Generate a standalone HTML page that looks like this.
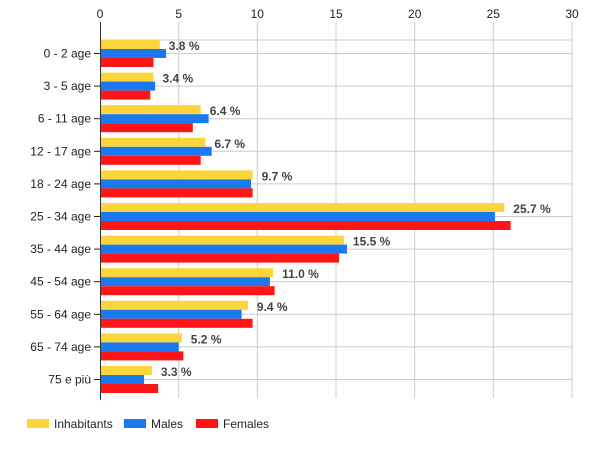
<!DOCTYPE html>
<html><head><meta charset="utf-8"><style>body{margin:0;background:#fff}svg{display:block}</style></head><body>
<svg width="600" height="450" xmlns="http://www.w3.org/2000/svg" font-family="Liberation Sans, Arial, sans-serif">
<g stroke="#ccc" stroke-width="1">
<line x1="178.7" y1="22" x2="178.7" y2="398"/><line x1="257.3" y1="22" x2="257.3" y2="398"/><line x1="336" y1="22" x2="336" y2="398"/><line x1="414.7" y1="22" x2="414.7" y2="398"/><line x1="493.3" y1="22" x2="493.3" y2="398"/><line x1="572" y1="22" x2="572" y2="398"/>
<line x1="100" y1="40" x2="572" y2="40"/>
<line x1="100" y1="53.5" x2="572" y2="53.5"/><line x1="100" y1="86.1" x2="572" y2="86.1"/><line x1="100" y1="118.7" x2="572" y2="118.7"/><line x1="100" y1="151.3" x2="572" y2="151.3"/><line x1="100" y1="183.9" x2="572" y2="183.9"/><line x1="100" y1="216.5" x2="572" y2="216.5"/><line x1="100" y1="249.1" x2="572" y2="249.1"/><line x1="100" y1="281.7" x2="572" y2="281.7"/><line x1="100" y1="314.3" x2="572" y2="314.3"/><line x1="100" y1="346.9" x2="572" y2="346.9"/><line x1="100" y1="379.5" x2="572" y2="379.5"/>
</g>
<g>
<g transform="translate(0,40)"><rect x="100" y="0" width="59.8" height="9" fill="#fbd53a"/><rect x="100" y="9" width="66.1" height="9" fill="#1c78ee"/><rect x="100" y="18" width="53.5" height="9" fill="#ff1515"/></g>
<g transform="translate(0,72.6)"><rect x="100" y="0" width="53.5" height="9" fill="#fbd53a"/><rect x="100" y="9" width="55.1" height="9" fill="#1c78ee"/><rect x="100" y="18" width="50.3" height="9" fill="#ff1515"/></g>
<g transform="translate(0,105.2)"><rect x="100" y="0" width="100.7" height="9" fill="#fbd53a"/><rect x="100" y="9" width="108.6" height="9" fill="#1c78ee"/><rect x="100" y="18" width="92.8" height="9" fill="#ff1515"/></g>
<g transform="translate(0,137.8)"><rect x="100" y="0" width="105.4" height="9" fill="#fbd53a"/><rect x="100" y="9" width="111.7" height="9" fill="#1c78ee"/><rect x="100" y="18" width="100.7" height="9" fill="#ff1515"/></g>
<g transform="translate(0,170.4)"><rect x="100" y="0" width="152.6" height="9" fill="#fbd53a"/><rect x="100" y="9" width="151" height="9" fill="#1c78ee"/><rect x="100" y="18" width="152.6" height="9" fill="#ff1515"/></g>
<g transform="translate(0,203)"><rect x="100" y="0" width="404.3" height="9" fill="#fbd53a"/><rect x="100" y="9" width="394.9" height="9" fill="#1c78ee"/><rect x="100" y="18" width="410.6" height="9" fill="#ff1515"/></g>
<g transform="translate(0,235.6)"><rect x="100" y="0" width="243.9" height="9" fill="#fbd53a"/><rect x="100" y="9" width="247" height="9" fill="#1c78ee"/><rect x="100" y="18" width="239.1" height="9" fill="#ff1515"/></g>
<g transform="translate(0,268.2)"><rect x="100" y="0" width="173.1" height="9" fill="#fbd53a"/><rect x="100" y="9" width="169.9" height="9" fill="#1c78ee"/><rect x="100" y="18" width="174.6" height="9" fill="#ff1515"/></g>
<g transform="translate(0,300.8)"><rect x="100" y="0" width="147.9" height="9" fill="#fbd53a"/><rect x="100" y="9" width="141.6" height="9" fill="#1c78ee"/><rect x="100" y="18" width="152.6" height="9" fill="#ff1515"/></g>
<g transform="translate(0,333.4)"><rect x="100" y="0" width="81.8" height="9" fill="#fbd53a"/><rect x="100" y="9" width="78.7" height="9" fill="#1c78ee"/><rect x="100" y="18" width="83.4" height="9" fill="#ff1515"/></g>
<g transform="translate(0,366)"><rect x="100" y="0" width="51.9" height="9" fill="#fbd53a"/><rect x="100" y="9" width="44.1" height="9" fill="#1c78ee"/><rect x="100" y="18" width="58.2" height="9" fill="#ff1515"/></g>
</g>
<line x1="100.5" y1="22" x2="100.5" y2="400" stroke="#333"/>
<g stroke="#222">
<line x1="94" y1="53.5" x2="100" y2="53.5"/><line x1="94" y1="86.1" x2="100" y2="86.1"/><line x1="94" y1="118.7" x2="100" y2="118.7"/><line x1="94" y1="151.3" x2="100" y2="151.3"/><line x1="94" y1="183.9" x2="100" y2="183.9"/><line x1="94" y1="216.5" x2="100" y2="216.5"/><line x1="94" y1="249.1" x2="100" y2="249.1"/><line x1="94" y1="281.7" x2="100" y2="281.7"/><line x1="94" y1="314.3" x2="100" y2="314.3"/><line x1="94" y1="346.9" x2="100" y2="346.9"/><line x1="94" y1="379.5" x2="100" y2="379.5"/>
</g>
<g font-size="12" fill="#222" text-anchor="end">
<text x="91" y="57.5">0 - 2 age</text><text x="91" y="90.1">3 - 5 age</text><text x="91" y="122.7">6 - 11 age</text><text x="91" y="155.3">12 - 17 age</text><text x="91" y="187.9">18 - 24 age</text><text x="91" y="220.5">25 - 34 age</text><text x="91" y="253.1">35 - 44 age</text><text x="91" y="285.7">45 - 54 age</text><text x="91" y="318.3">55 - 64 age</text><text x="91" y="350.9">65 - 74 age</text><text x="91" y="383.5">75 e più</text>
</g>
<g font-size="12" font-weight="bold" fill="#444">
<text x="168.8" y="50">3.8 %</text><text x="162.5" y="82.6">3.4 %</text><text x="209.7" y="115.2">6.4 %</text><text x="214.4" y="147.8">6.7 %</text><text x="261.6" y="180.4">9.7 %</text><text x="513.3" y="213">25.7 %</text><text x="352.9" y="245.6">15.5 %</text><text x="282.1" y="278.2">11.0 %</text><text x="256.9" y="310.8">9.4 %</text><text x="190.8" y="343.4">5.2 %</text><text x="160.9" y="376">3.3 %</text>
</g>
<g font-size="12" fill="#222" text-anchor="middle">
<text x="100" y="18">0</text><text x="178.7" y="18">5</text><text x="257.3" y="18">10</text><text x="336" y="18">15</text><text x="414.7" y="18">20</text><text x="493.3" y="18">25</text><text x="572" y="18">30</text>
</g>
<g font-size="12" fill="#222">
<rect x="27" y="419" width="22" height="9" fill="#fbd53a"/><text x="54" y="428">Inhabitants</text>
<rect x="124" y="419" width="22" height="9" fill="#1c78ee"/><text x="151" y="428">Males</text>
<rect x="196" y="419" width="22" height="9" fill="#ff1515"/><text x="223" y="428">Females</text>
</g>
</svg>
</body></html>
